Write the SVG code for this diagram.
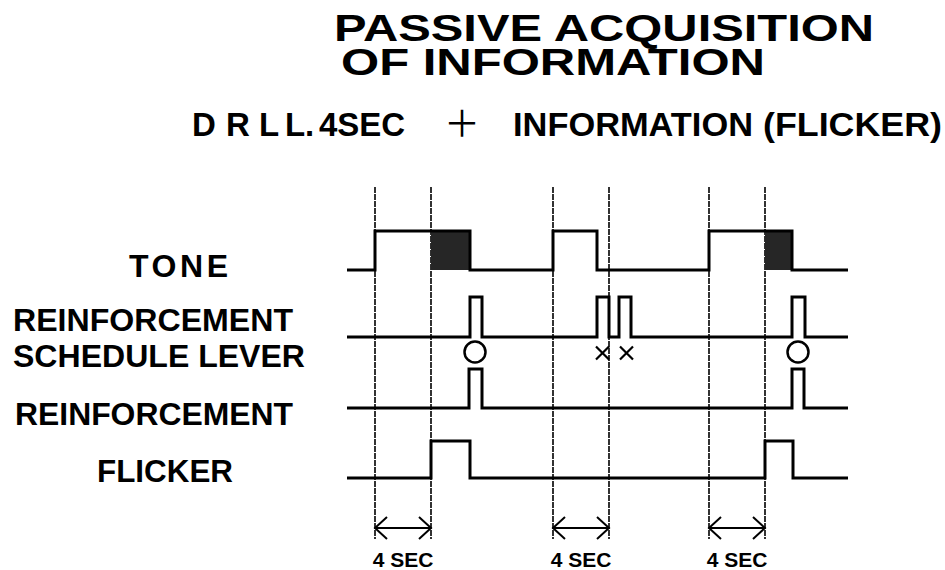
<svg xmlns="http://www.w3.org/2000/svg" width="945" height="570" viewBox="0 0 945 570">
<defs>
<style>
.t{font-family:"Liberation Sans",Arial,Helvetica,sans-serif;font-weight:bold;fill:#000}
.title{font-size:36px}
.sub{font-size:33px}
.lab{font-size:32px}
.sec{font-size:21px;text-anchor:middle}
.wave{fill:none;stroke:#000;stroke-width:3;stroke-linejoin:miter}
.guide{stroke:#000;stroke-width:1.6;stroke-dasharray:6 1}
.dim{stroke:#000;stroke-width:2;fill:none}
.mark{fill:none;stroke:#000;stroke-width:2.5}
.cross{fill:none;stroke:#000;stroke-width:2.2}
.shade{fill:#262626}
</style>
<marker id="chev" markerUnits="userSpaceOnUse" markerWidth="16" markerHeight="26" refX="13" refY="12" orient="auto-start-reverse" viewBox="0 0 16 24">
<path d="M1,1 L13,12 L1,23" fill="none" stroke="#000" stroke-width="2"/>
</marker>
</defs>
<rect width="945" height="570" fill="#fff"/>

<g id="title">
<text class="t title" x="334" y="41" textLength="540" lengthAdjust="spacingAndGlyphs">PASSIVE ACQUISITION</text>
<text class="t title" x="341" y="75" textLength="424" lengthAdjust="spacingAndGlyphs">OF INFORMATION</text>
</g>

<g id="subtitle">
<text class="t sub" y="136"><tspan x="192">D</tspan><tspan x="226">R</tspan><tspan x="259">L</tspan><tspan x="285">L</tspan><tspan x="305">.</tspan><tspan x="319">4SEC</tspan></text>
<text x="462" y="137" font-family="'Noto Sans CJK JP',sans-serif" font-size="36" text-anchor="middle">＋</text>
<text class="t sub" x="513" y="136" textLength="240" lengthAdjust="spacingAndGlyphs">INFORMATION</text>
<text class="t sub" x="763" y="136" textLength="179" lengthAdjust="spacingAndGlyphs">(FLICKER)</text>
</g>

<g id="connectors">
<line class="guide" x1="375" y1="187" x2="375" y2="539"/>
<line class="guide" x1="431" y1="187" x2="431" y2="539"/>
<line class="guide" x1="553" y1="187" x2="553" y2="539"/>
<line class="guide" x1="609" y1="187" x2="609" y2="539"/>
<line class="guide" x1="709" y1="187" x2="709" y2="539"/>
<line class="guide" x1="765" y1="187" x2="765" y2="539"/>
<path class="dim" d="M375,528 H431" marker-start="url(#chev)" marker-end="url(#chev)"/>
<path class="dim" d="M553,528 H609" marker-start="url(#chev)" marker-end="url(#chev)"/>
<path class="dim" d="M709,528 H765" marker-start="url(#chev)" marker-end="url(#chev)"/>
</g>

<g id="tone">
<text class="t lab" x="129" y="277" textLength="99" lengthAdjust="spacing">TONE</text>
<rect class="shade" x="431" y="231" width="39" height="39"/>
<rect class="shade" x="765" y="231" width="27" height="39"/>
<path class="wave" d="M347,270 H375 V231 H470 V270 H553 V231 H597 V270 H709 V231 H792 V270 H848"/>
</g>

<g id="schedule-lever">
<text class="t lab" x="13" y="331" textLength="280" lengthAdjust="spacingAndGlyphs">REINFORCEMENT</text>
<text class="t lab" x="13" y="367" textLength="292" lengthAdjust="spacingAndGlyphs">SCHEDULE LEVER</text>
<path class="wave" d="M347,337 H470 V297 H482 V337 H597 V297 H609 V337 H619 V297 H631 V337 H792 V297 H805 V337 H848"/>
<circle class="mark" cx="475" cy="352" r="10.5"/>
<circle class="mark" cx="798" cy="352" r="10.5"/>
<path class="cross" d="M596,346.5 L609,359.5 M609,346.5 L596,359.5 M620,346.5 L633,359.5 M633,346.5 L620,359.5"/>
</g>

<g id="reinforcement">
<text class="t lab" x="15" y="425" textLength="278" lengthAdjust="spacingAndGlyphs">REINFORCEMENT</text>
<path class="wave" d="M347,408 H469 V369 H482 V408 H792 V369 H804 V408 H848"/>
</g>

<g id="flicker">
<text class="t lab" x="97" y="482" textLength="136" lengthAdjust="spacingAndGlyphs">FLICKER</text>
<path class="wave" d="M347,478 H431 V441 H470 V478 H765 V441 H793 V478 H848"/>
</g>

<g id="durations">
<text class="t sec" x="403" y="567">4 SEC</text>
<text class="t sec" x="581" y="567">4 SEC</text>
<text class="t sec" x="737" y="567">4 SEC</text>
</g>
</svg>
